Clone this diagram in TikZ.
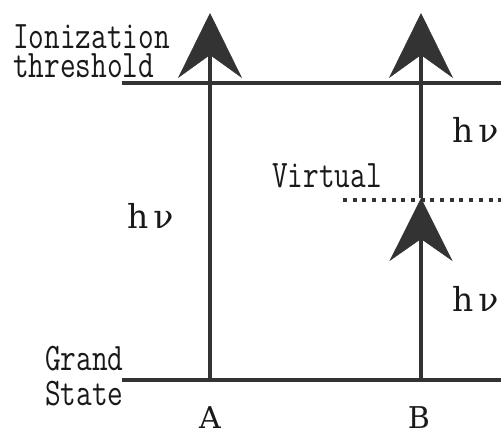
\documentclass[tikz,border=0pt]{standalone}
\usepackage{fontspec}
\usepackage{graphicx}
\newfontfamily\hvfont{DejaVu Serif}
\usetikzlibrary{arrows.meta}
\definecolor{ink}{gray}{0.2}
\definecolor{textink}{gray}{0.1}
\tikzset{
  level/.style={draw=ink, line width=4pt},
  vlevel/.style={draw=ink, line width=4pt, dash pattern=on 4pt off 5.7pt},
  photon/.style={draw=ink, line width=4pt,
    -{Stealth[length=65pt, width=64pt, inset=23pt, line width=0.5pt]}, fill=ink},
  photonsmall/.style={draw=ink, line width=4pt,
    -{Stealth[length=63pt, width=63pt, inset=22pt, line width=0.5pt]}, fill=ink},
  monolbl/.style={inner sep=0pt, anchor=base west, text=textink,
    text height=24pt, text depth=0pt,
    font=\fontsize{39}{39}\selectfont\ttfamily},
  hvlbl/.style={inner sep=0pt, anchor=base west, text=textink,
    text height=25pt, text depth=0pt,
    font=\fontsize{33}{33}\selectfont\hvfont},
  collbl/.style={inner sep=0pt, anchor=base, text=textink,
    text height=22pt, text depth=0pt,
    font=\fontsize{30}{30}\selectfont\hvfont}
}
\newcommand{\narrow}[1]{\scalebox{0.78}[1]{#1}}
\begin{document}
\begin{tikzpicture}[x=1pt, y=-1pt]
\useasboundingbox (0,0) rectangle (501,432);
\clip (0,0) rectangle (501,432);
% level end points
\coordinate (thL) at (122,83);
\coordinate (thR) at (506,83);
\coordinate (gsL) at (122,380);
\coordinate (gsR) at (506,380);
\coordinate (vL) at (343,200);
\coordinate (vR) at (506,200);
% transition points
\coordinate (Abot) at (210,380);
\coordinate (Atop) at (210,13);
\coordinate (Bbot) at (421,380);
\coordinate (Bvir) at (421,198);
\coordinate (Btop) at (421,13);
% levels
\draw[level] (thL) -- (thR);
\draw[level] (gsL) -- (gsR);
\draw[vlevel] (vL) -- (vR);
% transitions
\draw[photon] (Abot) -- (Atop);
\draw[photon] (Bvir) -- (Btop);
\draw[photonsmall] (Bbot) -- (Bvir);
% labels
\node[monolbl] (ion) at (13,48) {\narrow{Ionization}};
\node[monolbl] (thr) at (13,77) {\narrow{threshold}};
\node[monolbl] (vir) at (272,187) {\narrow{Virtual}};
\node[monolbl] (gra) at (45,370) {\narrow{Grand}};
\node[monolbl] (sta) at (45,405) {\narrow{State}};
\node[hvlbl] (hvA) at (127,228) {h\kern5pt ν};
\node[hvlbl] (hvB1) at (452,142) {h\kern5pt ν};
\node[hvlbl] (hvB2) at (452,311) {h\kern5pt ν};
\node[collbl] (labA) at (210,428) {A};
\node[collbl] (labB) at (419,428) {B};
\end{tikzpicture}
\end{document}
